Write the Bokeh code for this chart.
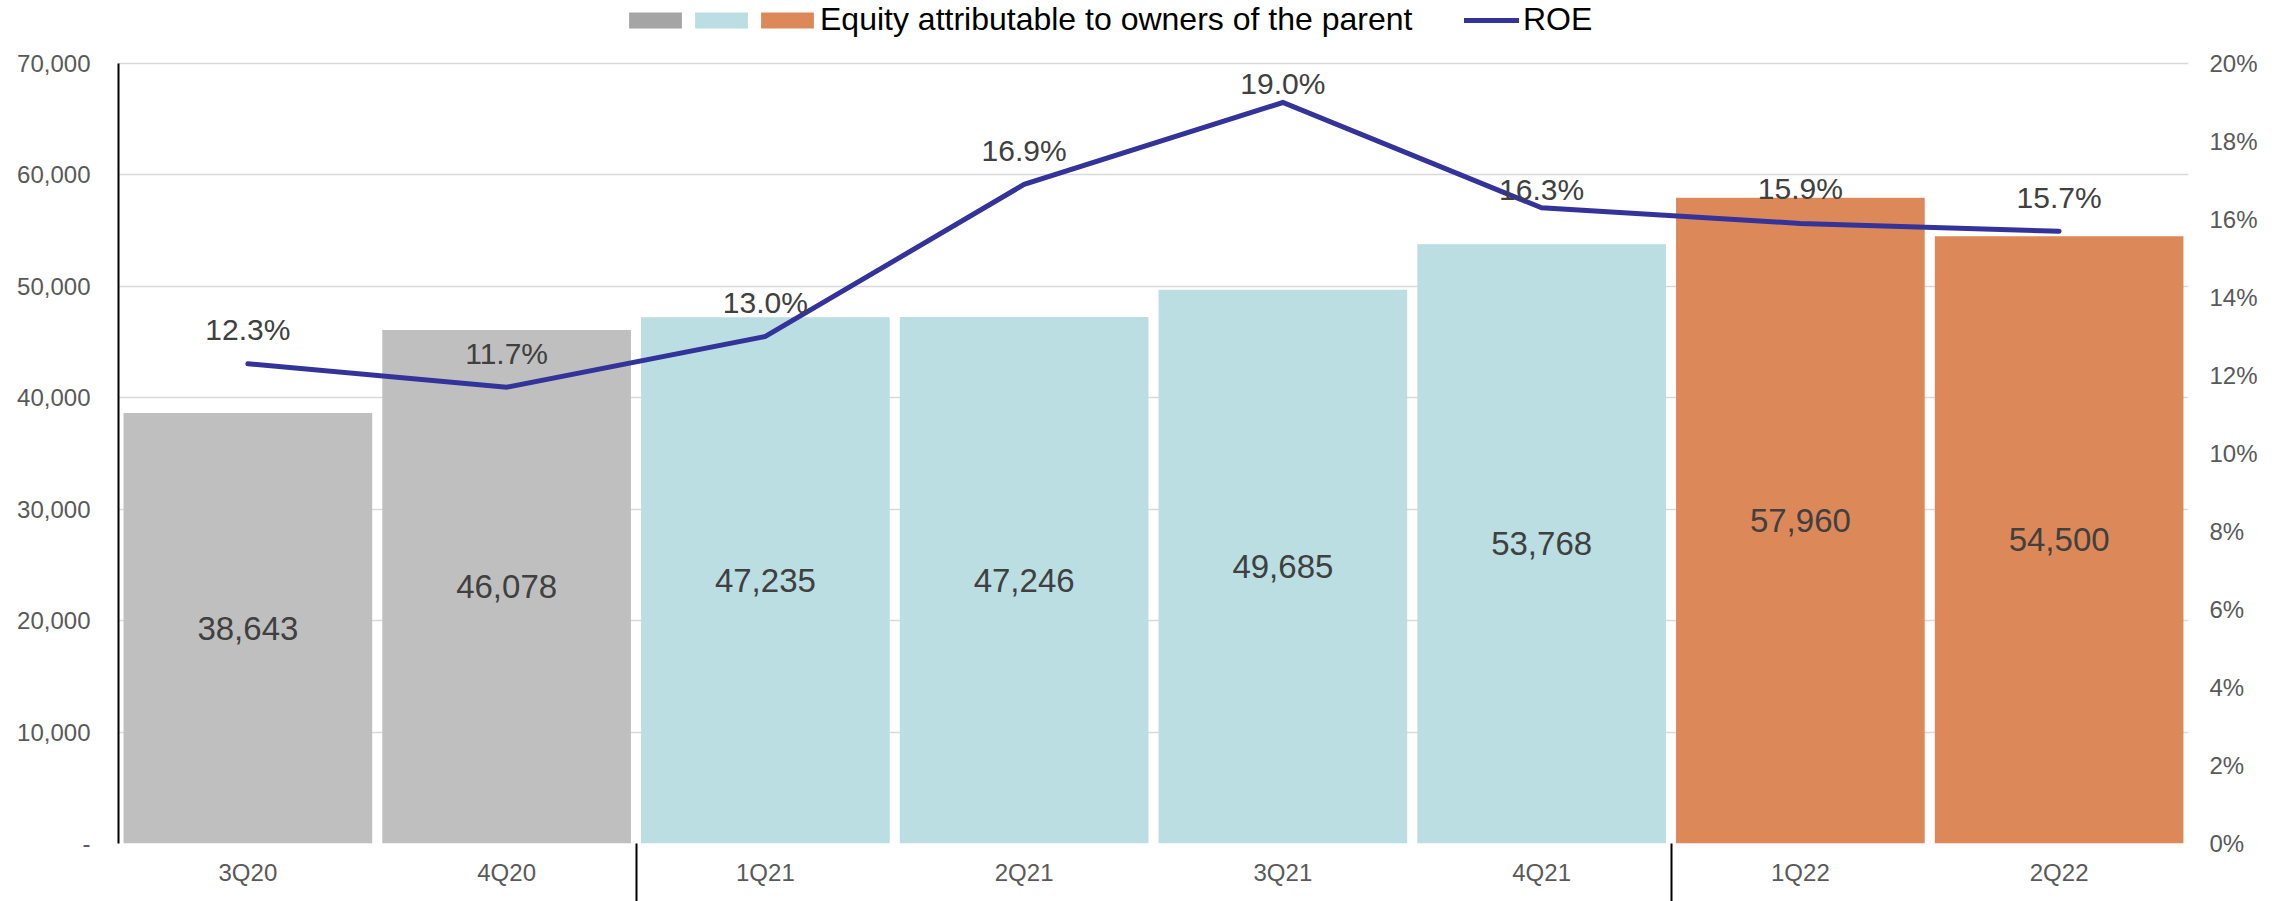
from bokeh.plotting import figure
from bokeh.models import (ColumnDataSource, Range1d, LinearAxis, FixedTicker, Legend,
                          LegendItem, CDSView, GroupFilter, NumeralTickFormatter)
from bokeh.core.properties import value
from bokeh.embed import file_html
from bokeh.resources import INLINE

# ---------------- data ----------------
quarters = ["3Q20", "4Q20", "1Q21", "2Q21", "3Q21", "4Q21", "1Q22", "2Q22"]
periods = ["FY20", "FY20", "FY21", "FY21", "FY21", "FY21", "FY22", "FY22"]
equity = [38643, 46078, 47235, 47246, 49685, 53768, 57960, 54500]
roe = [12.3, 11.7, 13.0, 16.9, 19.0, 16.3, 15.9, 15.7]
equity_ticks = [0, 10000, 20000, 30000, 40000, 50000, 60000, 70000]
roe_ticks = [0, 2, 4, 6, 8, 10, 12, 14, 16, 18, 20]
equity_label = "Equity attributable to owners of the parent"
roe_label = "ROE"

# ---------------- style / layout ----------------
period_colors = {"FY20": "#BFBFBF", "FY21": "#BADEE2", "FY22": "#DD8859"}
legend_gray = "#A5A5A5"
line_color = "#333399"
roe_label_offsets = [34, 34, 34, 34, 19, 18, 35, 34]  # px above each point
FONT = "Liberation Sans"
W, H = 2287, 901
BORDER_BOTTOM = 58
LEGEND_BAND = 63          # px above the top gridline kept free for the legend
frame_h = H - BORDER_BOTTOM
scale_up = frame_h / (frame_h - LEGEND_BAND)

# category slots (one unit per quarter)
centers = [i + 0.5 for i in range(len(quarters))]
boundaries = [i for i in range(1, len(periods)) if periods[i] != periods[i - 1]]

src = ColumnDataSource(dict(
    x=centers, q=quarters, period=periods, equity=equity,
    mid=[v / 2 for v in equity],
    eq_text=[f"{v:,}" for v in equity],
    roe=roe,
    roe_text=[f"{v:.1f}%" for v in roe],
    roe_dy=[-d for d in roe_label_offsets],
))

p = figure(width=W, height=H, x_range=Range1d(0, len(quarters)),
           y_range=Range1d(0, equity_ticks[-1] * scale_up),
           output_backend="svg", toolbar_location=None, x_axis_location=None,
           min_border_left=118, min_border_right=99, min_border_top=0,
           min_border_bottom=BORDER_BOTTOM,
           outline_line_color=None, background_fill_color="white", border_fill_color="white")
p.extra_y_ranges = {"roe": Range1d(0, roe_ticks[-1] * scale_up)}

# legend-only swatch for the first period (muted: not drawn in the plot)
legend_swatch = p.vbar(x="x", top="equity", width=0.961, source=src,
                       view=CDSView(filter=GroupFilter(column_name="period", group=periods[0])),
                       fill_color=legend_gray, line_color=None,
                       muted_fill_alpha=0, muted_line_alpha=0)
legend_swatch.muted = True

# bars grouped by period
bar_r = {}
for per in dict.fromkeys(periods):
    view = CDSView(filter=GroupFilter(column_name="period", group=per))
    bar_r[per] = p.vbar(x="x", top="equity", width=0.961, source=src, view=view,
                        fill_color=period_colors[per], line_color=None)

# ROE line
line_r = p.line(x="x", y="roe", y_range_name="roe", source=src, line_color=line_color,
                line_width=5, line_cap="round", line_join="miter")

# labels
p.text(x="x", y="mid", text="eq_text", source=src, text_font=value(FONT),
       text_font_size="33px", text_color="#404040", text_align="center", text_baseline="middle")
p.text(x="x", y="roe", y_range_name="roe", y_offset="roe_dy", text="roe_text", source=src,
       text_font=value(FONT), text_font_size="30px", text_color="#404040",
       text_align="center", text_baseline="middle")

# left axis
ya = p.yaxis[0]
ya.ticker = FixedTicker(ticks=equity_ticks)
ya.bounds = (equity_ticks[0], equity_ticks[-1])
ya.formatter = NumeralTickFormatter(format="0,0")
ya.major_label_overrides = {0: "-"}
ya.axis_line_color = "black"
ya.axis_line_width = 2
ya.major_tick_line_color = None
ya.minor_tick_line_color = None
ya.major_tick_out = 0
ya.major_label_standoff = 28
ya.major_label_text_font = FONT
ya.major_label_text_font_size = "24px"
ya.major_label_text_color = "#595959"

p.ygrid.ticker = FixedTicker(ticks=equity_ticks)
p.ygrid.grid_line_color = "#D9D9D9"
p.ygrid.grid_line_width = 1.5
p.xgrid.visible = False

# right axis
ra = LinearAxis(y_range_name="roe", ticker=FixedTicker(ticks=roe_ticks),
                bounds=(roe_ticks[0], roe_ticks[-1]),
                major_label_overrides={t: f"{t}%" for t in roe_ticks})
ra.axis_line_color = None
ra.major_tick_line_color = None
ra.minor_tick_line_color = None
ra.major_tick_out = 0
ra.major_label_standoff = 21
ra.major_label_text_font = FONT
ra.major_label_text_font_size = "24px"
ra.major_label_text_color = "#595959"
p.add_layout(ra, "right")

# bottom axis: quarter labels + period separators (minor ticks)
xa = LinearAxis(ticker=FixedTicker(ticks=centers, minor_ticks=boundaries),
                major_label_overrides={c: q for c, q in zip(centers, quarters)})
xa.axis_line_color = None
xa.major_tick_line_color = None
xa.major_tick_out = 0
xa.major_tick_in = 0
xa.minor_tick_line_color = "black"
xa.minor_tick_line_width = 2
xa.minor_tick_in = 0
xa.minor_tick_out = 60
xa.major_label_standoff = -45
xa.major_label_text_font = FONT
xa.major_label_text_font_size = "24px"
xa.major_label_text_color = "#595959"
p.add_layout(xa, "below")

# legends (inside the band above the top gridline)
common = dict(orientation="horizontal", padding=0, margin=0, border_line_color=None,
              background_fill_alpha=0, label_text_font=FONT, label_text_font_size="32px",
              label_text_color="black", label_width=0)
leg1 = Legend(items=[LegendItem(label="", renderers=[legend_swatch]),
                     LegendItem(label="", renderers=[bar_r["FY21"]]),
                     LegendItem(label=equity_label, renderers=[bar_r["FY22"]])],
              location=(504, 805), glyph_width=66, glyph_height=20,
              label_standoff=0, spacing=0, **common)
leg2 = Legend(items=[LegendItem(label=roe_label, renderers=[line_r])],
              location=(1346, 805), glyph_width=55, glyph_height=20,
              label_standoff=4, spacing=0, **common)
p.add_layout(leg1, "center")
p.add_layout(leg2, "center")

open("out.html", "w").write(file_html(p, INLINE))
